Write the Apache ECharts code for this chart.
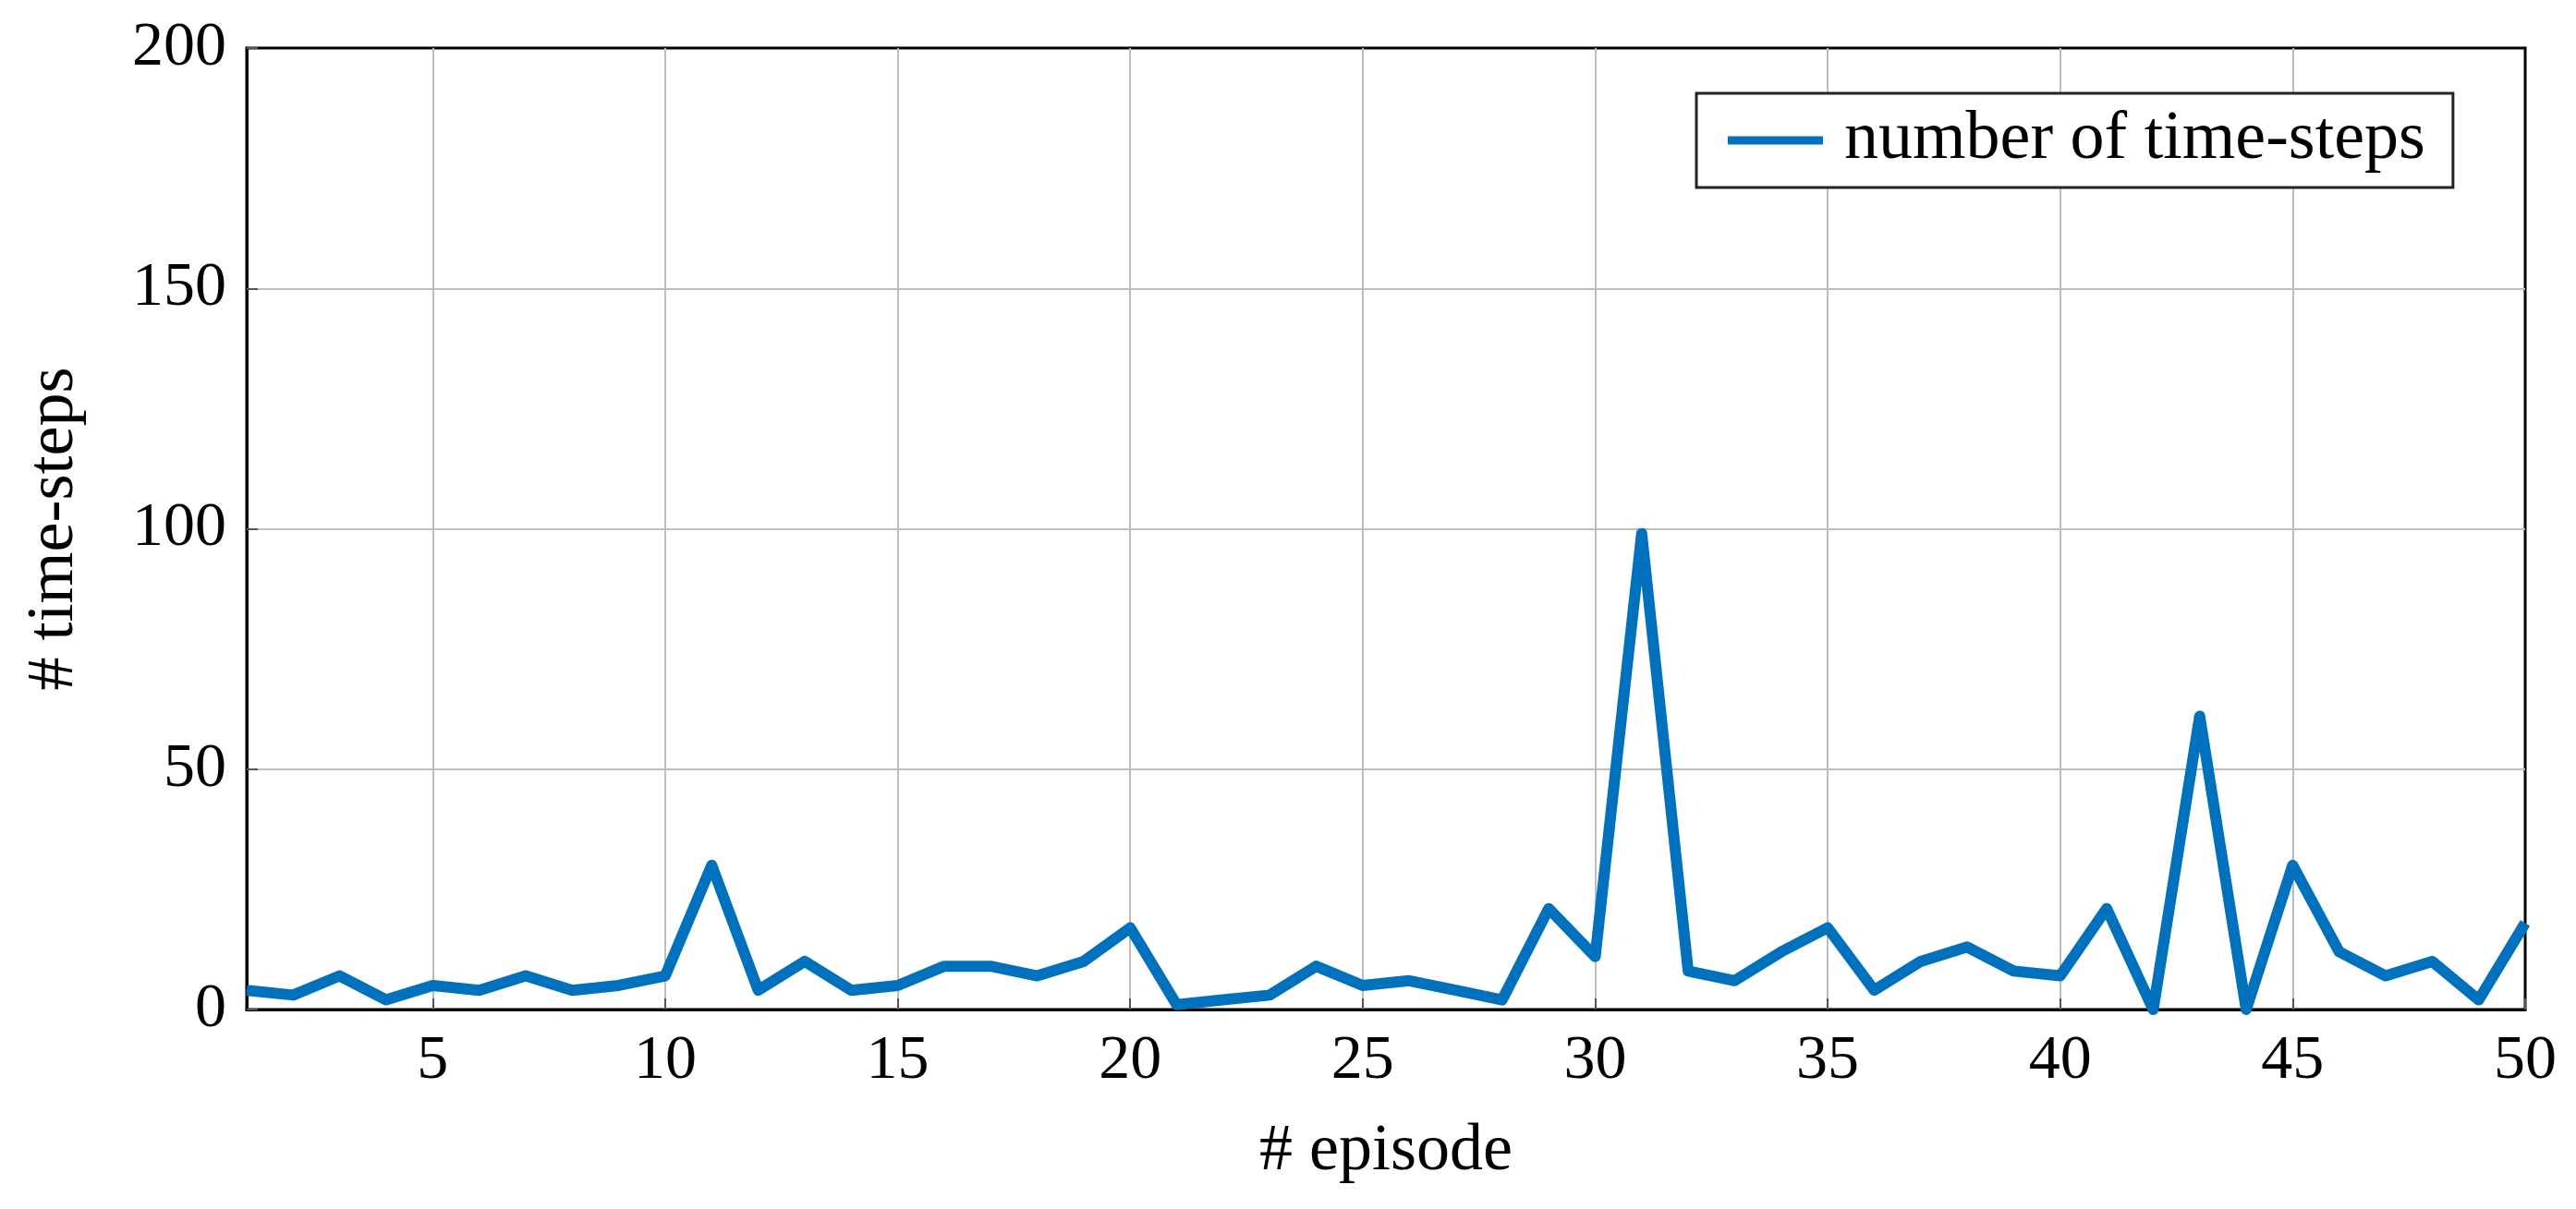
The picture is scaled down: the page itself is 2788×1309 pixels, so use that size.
<!DOCTYPE html>
<html>
<head>
<meta charset="utf-8">
<script src="https://cdn.jsdelivr.net/npm/echarts@6/dist/echarts.min.js"></script>
<style>
  html, body { margin: 0; padding: 0; background: #fff; }
  #chart { width: 2788px; height: 1309px; }
</style>
</head>
<body>
<div id="chart"></div>
<script>
// episodes 1..50 and time-steps
const episodes = [
  1, 2, 3, 4, 5, 6, 7, 8, 9, 10,
  11, 12, 13, 14, 15, 16, 17, 18, 19, 20,
  21, 22, 23, 24, 25, 26, 27, 28, 29, 30,
  31, 32, 33, 34, 35, 36, 37, 38, 39, 40,
  41, 42, 43, 44, 45, 46, 47, 48, 49, 50
];
const timeSteps = [
  4, 3, 7, 2, 5, 4, 7, 4, 5, 7,
  30, 4, 10, 4, 5, 9, 9, 7, 10, 17,
  1, 2, 3, 9, 5, 6, 4, 2, 21, 11,
  99, 8, 6, 12, 17, 4, 10, 13, 8, 7,
  21, 0, 61, 0, 30, 12, 7, 10, 2, 18
];
const xTicks = [5, 10, 15, 20, 25, 30, 35, 40, 45, 50];
const seriesName = 'number of time-steps';

const font = 'Liberation Serif';
const chart = echarts.init(document.getElementById('chart'));

const option = {
  backgroundColor: '#ffffff',
  animation: false,
  grid: {
    left: 267, right: 55, top: 52, bottom: 216,
    show: true, borderColor: '#000', borderWidth: 3,
    backgroundColor: 'transparent'
  },
  legend: {
    data: [seriesName],
    left: 1836, top: 101,
    padding: [14, 30, 14, 34],
    itemWidth: 103, itemHeight: 9, itemGap: 0,
    icon: 'rect',
    borderColor: '#222', borderWidth: 3,
    backgroundColor: '#fff',
    textStyle: { fontFamily: font, fontSize: 74, color: '#000', padding: [0, 0, 0, 18], lineHeight: 64 }
  },
  xAxis: {
    type: 'value',
    min: 1, max: 50,
    name: '# episode',
    nameLocation: 'middle',
    nameGap: 118,
    nameTextStyle: { fontFamily: font, fontSize: 72, color: '#000' },
    axisLine: { show: true, lineStyle: { color: '#000', width: 3 } },
    axisTick: { show: true, inside: true, length: 12, customValues: xTicks, lineStyle: { color: '#555', width: 2 } },
    axisLabel: { customValues: xTicks, fontFamily: font, fontSize: 68, color: '#000', margin: 22 },
    splitLine: { show: true, showMinLine: true, showMaxLine: false, lineStyle: { color: '#bdbdbd', width: 2 } }
  },
  yAxis: {
    type: 'value',
    min: 0, max: 200, interval: 50,
    name: '# time-steps',
    nameLocation: 'middle',
    nameGap: 172,
    nameTextStyle: { fontFamily: font, fontSize: 72, color: '#000' },
    axisLine: { show: true, lineStyle: { color: '#000', width: 3 } },
    axisTick: { show: true, inside: true, length: 12, lineStyle: { color: '#555', width: 2 } },
    axisLabel: { fontFamily: font, fontSize: 68, color: '#000', margin: 22 },
    splitLine: { show: true, showMinLine: false, showMaxLine: false, lineStyle: { color: '#bdbdbd', width: 2 } }
  },
  series: [
    {
      name: seriesName,
      type: 'line',
      data: episodes.map((e, i) => [e, timeSteps[i]]),
      showSymbol: false,
      symbol: 'none',
      lineStyle: { color: '#0072BD', width: 12, join: 'round' },
      itemStyle: { color: '#0072BD' },
      z: 3
    }
  ]
};

chart.setOption(option);
</script>
</body>
</html>
